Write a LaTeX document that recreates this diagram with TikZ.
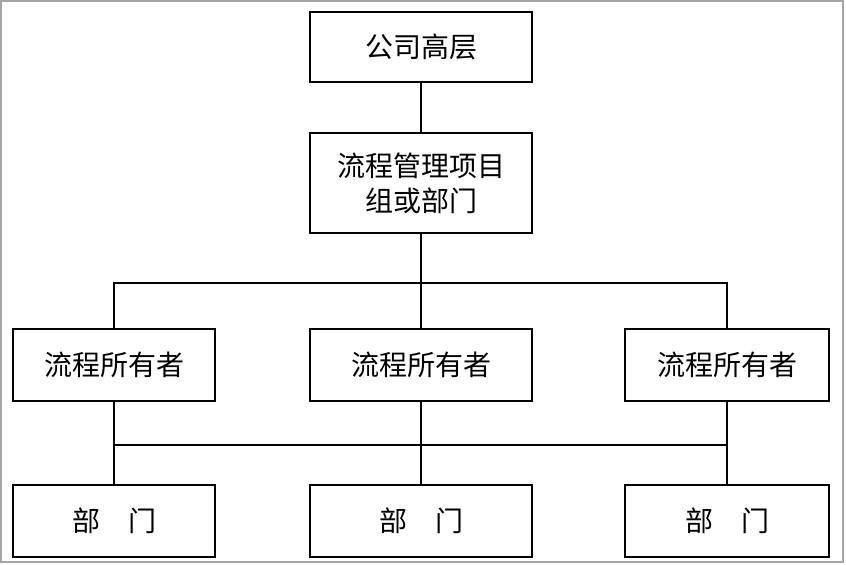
\documentclass[tikz,border=0pt]{standalone}
\usepackage{fontspec}
\setmainfont{Noto Sans CJK SC}
\begin{document}
\begin{tikzpicture}[x=0.5pt, y=-0.5pt,
  every node/.style={font=\fontsize{14}{17.5}\selectfont},
  orgbox/.style={draw, line width=1pt, minimum height=36pt, inner sep=0pt, align=center},
  link/.style={line width=0.75pt}]
  % frame
  \useasboundingbox (0,0) rectangle (846,565);
  \draw[gray!70, line width=0.6pt] (1,1) rectangle (843,562);
  % boxes
  \node[orgbox, minimum width=111pt, minimum height=35pt] (top) at (421,47) {公司高层};
  \node[orgbox, minimum width=111pt, minimum height=50pt] (pmo) at (421,183) {流程管理项目\\组或部门};
  \node[orgbox, minimum width=101pt] (ownL) at (114,365) {流程所有者};
  \node[orgbox, minimum width=111pt] (ownM) at (421,365) {流程所有者};
  \node[orgbox, minimum width=102pt] (ownR) at (727,365) {流程所有者};
  \node[orgbox, minimum width=101pt] (depL) at (114,521) {部\quad 门};
  \node[orgbox, minimum width=111pt] (depM) at (421,521) {部\quad 门};
  \node[orgbox, minimum width=102pt] (depR) at (727,521) {部\quad 门};
  % buses
  \coordinate (busA) at (421,283);
  \coordinate (busB) at (421,445);
  \draw[link] (top) -- (pmo);
  \draw[link] (pmo) -- (busA) -- (ownM);
  \draw[link] (ownL.north) |- (busA) -| (ownR.north);
  \draw[link] (ownL) -- (depL);
  \draw[link] (ownM) -- (depM);
  \draw[link] (ownR) -- (depR);
  \draw[link] (ownL.south |- busB) -- (ownR.south |- busB);
\end{tikzpicture}
\end{document}
